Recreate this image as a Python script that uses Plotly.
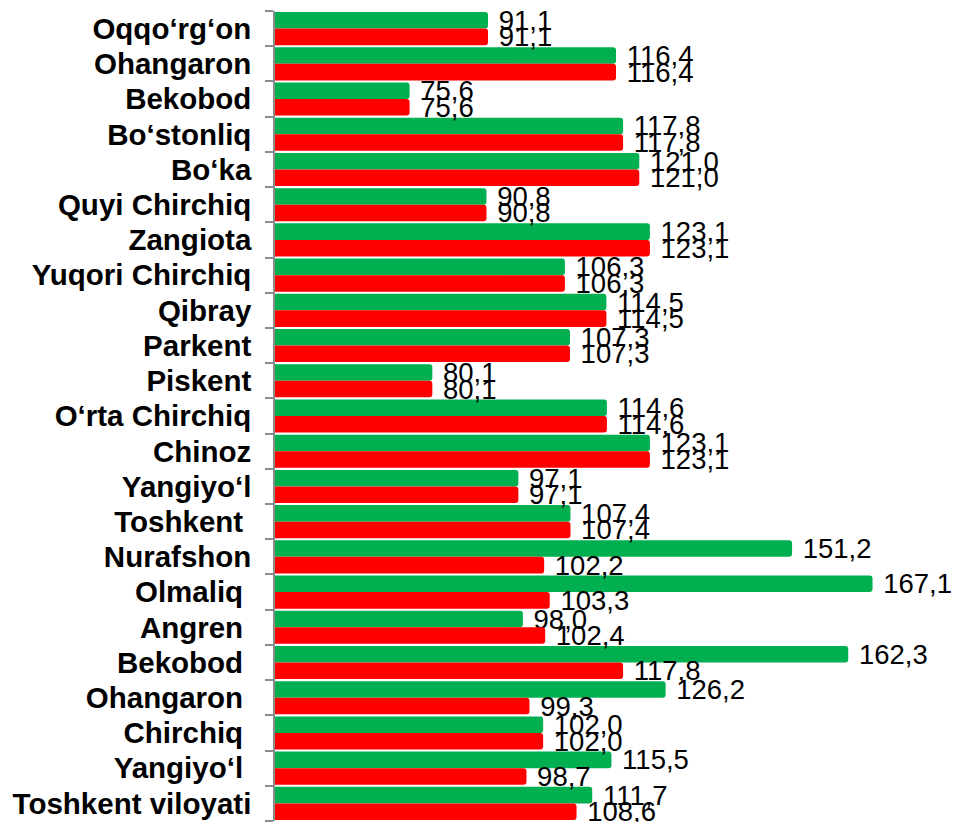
import plotly.graph_objects as go

NBSP = "\u00a0"

# District / city names, top to bottom (a trailing space keeps repeated names distinct)
categories = [
    "Oqqo‘rg‘on", "Ohangaron", "Bekobod", "Bo‘stonliq", "Bo‘ka",
    "Quyi Chirchiq", "Zangiota", "Yuqori Chirchiq", "Qibray", "Parkent",
    "Piskent", "O‘rta Chirchiq", "Chinoz", "Yangiyo‘l", "Toshkent" + NBSP,
    "Nurafshon", "Olmaliq" + NBSP, "Angren" + NBSP, "Bekobod" + NBSP,
    "Ohangaron" + NBSP, "Chirchiq" + NBSP, "Yangiyo‘l" + NBSP, "Toshkent viloyati",
]

green_values = [
    91.1, 116.4, 75.6, 117.8, 121.0, 90.8, 123.1, 106.3, 114.5, 107.3,
    80.1, 114.6, 123.1, 97.1, 107.4, 151.2, 167.1, 98.0, 162.3, 126.2,
    102.0, 115.5, 111.7,
]

red_values = [
    91.1, 116.4, 75.6, 117.8, 121.0, 90.8, 123.1, 106.3, 114.5, 107.3,
    80.1, 114.6, 123.1, 97.1, 107.4, 102.2, 103.3, 102.4, 117.8, 99.3,
    102.0, 98.7, 108.6,
]

label_font = dict(family="Liberation Sans, Arial, sans-serif", size=27.5, color="#000000")


def bar_trace(values, color):
    return go.Bar(
        y=categories,
        x=values,
        orientation="h",
        marker=dict(color=color, cornerradius=3, line=dict(width=0)),
        texttemplate=NBSP + "%{x:.1f}",
        textposition="outside",
        textfont=label_font,
        constraintext="none",
        cliponaxis=False,
        hoverinfo="skip",
    )


fig = go.Figure()
fig.add_trace(bar_trace(green_values, "#00B050"))
fig.add_trace(bar_trace(red_values, "#FF0000"))

fig.update_layout(
    width=954,
    height=822,
    margin=dict(l=275, r=0, t=11, b=1),
    barmode="group",
    bargap=0.06,
    bargroupgap=0,
    separators=", ",
    showlegend=False,
    paper_bgcolor="#ffffff",
    plot_bgcolor="#ffffff",
)

fig.update_xaxes(
    range=[49, 183.2],
    visible=False,
    showgrid=False,
    zeroline=False,
)

fig.update_yaxes(
    type="category",
    autorange="reversed",
    tickmode="array",
    tickvals=categories,
    ticktext=categories,
    showline=True,
    linecolor="#8c8c8c",
    linewidth=1.5,
    ticks="outside",
    tickson="boundaries",
    ticklen=8,
    tickcolor="#8c8c8c",
    tickwidth=1.5,
    ticklabelstandoff=16,
    tickfont=dict(family="Liberation Sans, Arial, sans-serif", size=29.5, color="#000000",
                  weight="bold"),
    showgrid=False,
)

fig.write_html("out.html")
